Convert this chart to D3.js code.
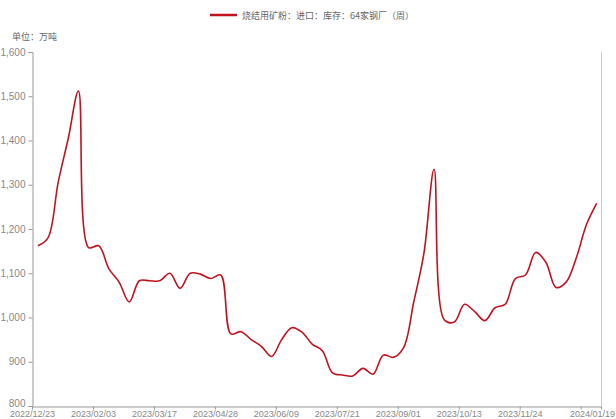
<!DOCTYPE html>
<html>
<head>
<meta charset="utf-8">
<script src="https://cdn.jsdelivr.net/npm/d3@7/dist/d3.min.js"></script>
<style>
  html, body { margin: 0; padding: 0; background: #fff; }
  svg { display: block; font-family: "Noto Sans CJK SC", "Noto Sans", sans-serif; }
</style>
</head>
<body>
<svg id="chart" width="616" height="419"></svg>
<script>
// Weekly inventory of imported sintering fines at 64 steel mills (10k tonnes)
const seriesName = "烧结用矿粉：进口：库存：64家钢厂（周）";
const unitLabel = "单位：万吨";
const startDate = "2022-12-27";
const inventory = [
  1162, 1180, 1305, 1405, 1512, 1158, 1162, 1110, 1080, 1035,
  1083, 1083, 1083, 1100, 1066, 1100, 1098, 1088, 1096, 963,
  968, 950, 935, 912, 950, 977, 967, 940, 925, 875,
  870, 868, 885, 872, 915, 910, 932, 1035, 1145, 1335,
  995, 990, 1030, 1013, 993, 1022, 1030, 1088, 1096, 1147,
  1125, 1068, 1080, 1135, 1210, 1258
];
const xTickDates = ["2022/12/23", "2023/02/03", "2023/03/17", "2023/04/28", "2023/06/09",
  "2023/07/21", "2023/09/01", "2023/10/13", "2023/11/24", "2024/01/05", "2024/01/19"];
const xTickLabels = ["2022/12/23", "2023/02/03", "2023/03/17", "2023/04/28", "2023/06/09",
  "2023/07/21", "2023/09/01", "2023/10/13", "2023/11/24", "", "2024/01/19"];
const yTicks = [800, 900, 1000, 1100, 1200, 1300, 1400, 1500, 1600];

const parse = d3.timeParse("%Y/%m/%d");
const day0 = d3.timeParse("%Y-%m-%d")(startDate);
const data = inventory.map((v, i) => ({ date: d3.timeDay.offset(day0, 7 * i), value: v }));

const svg = d3.select("#chart");
const plot = { left: 32, right: 601, top: 52, bottom: 406 };
const width = +svg.attr("width");

const x = d3.scaleTime()
  .domain([parse(xTickDates[0]), parse(xTickDates[xTickDates.length - 1])])
  .range([plot.left, plot.right]);
const y = d3.scaleLinear().domain([800, 1600]).range([plot.bottom, plot.top]);

// right frame line
svg.append("line")
  .attr("x1", plot.right + 0.5).attr("x2", plot.right + 0.5)
  .attr("y1", plot.top).attr("y2", plot.bottom)
  .attr("stroke", "#ccc").attr("stroke-width", 1);

// y axis
const yAxis = svg.append("g")
  .attr("transform", `translate(${plot.left + 0.5},0)`)
  .call(d3.axisLeft(y).tickValues(yTicks).tickFormat(d3.format(",")).tickSize(4).tickPadding(3));
yAxis.select(".domain").attr("stroke", "#999");
yAxis.selectAll(".tick line").attr("stroke", "#999");
yAxis.selectAll(".tick text").attr("fill", "#888").style("font-size", "10px")
  .style("font-family", "'Liberation Sans', Arial, sans-serif");
// lift the bottom value so it clears the date row
yAxis.selectAll(".tick text").filter(d => d === 800).attr("dy", "0em");

// x axis
const xAxis = svg.append("g")
  .attr("transform", `translate(0,${plot.bottom + 0.5})`)
  .call(d3.axisBottom(x).tickValues(xTickDates.map(parse))
    .tickFormat((d, i) => xTickLabels[i]).tickSize(3).tickSizeOuter(0));
xAxis.select(".domain").attr("stroke", "#999");
xAxis.selectAll(".tick line").attr("stroke", "#999");
xAxis.selectAll(".tick text")
  .attr("y", 4)
  .attr("fill", "#888").style("font-size", "9px")
  .style("font-family", "'Liberation Sans', Arial, sans-serif");

// keep the last date label inside the canvas
xAxis.selectAll(".tick text").each(function () {
  const t = d3.select(this);
  if (!t.text()) return;
  const tx = +d3.select(this.parentNode).attr("transform").match(/translate\(([-\d.]+)/)[1];
  const w = this.getComputedTextLength();
  if (tx + w / 2 > width - 1) t.attr("x", width - 1 - tx - w / 2);
});

// unit label
svg.append("text")
  .attr("x", 12).attr("y", 40)
  .attr("fill", "#666").style("font-size", "9px")
  .text(unitLabel);

// legend
const lg = svg.append("g").attr("transform", "translate(210,15)");
lg.append("line").attr("x1", 0).attr("x2", 27).attr("y1", 0).attr("y2", 0)
  .attr("stroke", "#c0131f").attr("stroke-width", 2.5);
lg.append("text").attr("x", 32).attr("y", 3.5)
  .attr("fill", "#666").style("font-size", "9px")
  .text(seriesName);

// series line
const line = d3.line()
  .x(d => x(d.date))
  .y(d => y(d.value))
  .curve(d3.curveCatmullRom.alpha(0.5));

svg.append("path")
  .datum(data)
  .attr("fill", "none")
  .attr("stroke", "#c0131f")
  .attr("stroke-width", 1.6)
  .attr("d", line);
</script>
</body>
</html>
